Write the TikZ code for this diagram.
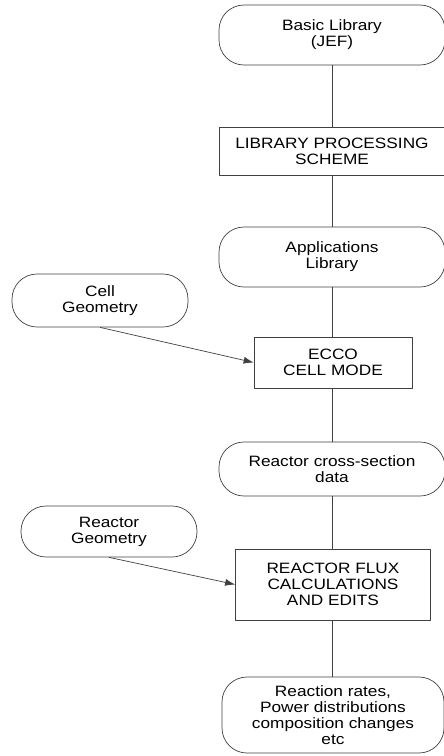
\documentclass[tikz,border=0pt]{standalone}
\usepackage{fontspec}
\setmainfont[FakeStretch=1.15]{Liberation Sans}
\usetikzlibrary{arrows.meta}
\begin{document}
\begin{tikzpicture}[x=1pt, y=-1pt, >={Latex[length=10pt,width=7pt]}, line join=round, font=\fontsize{15}{16}\selectfont]
	\tikzset{box style/.style={draw=black!75, line width=0.7pt, align=center, inner sep=2pt},
		round box/.style={box style, rounded corners=25pt},
		link/.style={draw=black!75, line width=0.7pt}}
	\useasboundingbox (0,0) rectangle (444,756);
	% main chain
	\node[round box, minimum width=226pt, minimum height=60pt] (basic) at (332,35) {Basic Library\\(JEF)};
	\node[box style, minimum width=226pt, minimum height=48pt] (scheme) at (332,151) {LIBRARY PROCESSING\\SCHEME};
	\node[round box, minimum width=226pt, minimum height=60pt] (apps) at (332,257) {Applications\\Library};
	\node[box style, minimum width=158pt, minimum height=51pt] (ecco) at (333,362.5) {ECCO\\CELL MODE};
	\node[round box, minimum width=226pt, minimum height=54pt] (xsec) at (332,469) {Reactor cross-section\\data};
	\node[box style, minimum width=195pt, minimum height=71pt] (flux) at (333,584.5) {REACTOR FLUX\\CALCULATIONS\\AND EDITS};
	\node[round box, minimum width=222pt, minimum height=76pt] (rates) at (333,715) {Reaction rates,\\Power distributions\\composition changes\\etc};
	% side inputs
	\node[round box, minimum width=176pt, minimum height=53pt] (cellgeo) at (100,300.5) {Cell\\Geometry};
	\node[round box, minimum width=176pt, minimum height=51pt] (reacgeo) at (109,531.5) {Reactor\\Geometry};
	\foreach \a/\b in {basic/scheme, scheme/apps, apps/ecco, ecco/xsec, xsec/flux, flux/rates}
	\draw[link] (\a.south -| basic) -- (\b.north -| basic);
	\draw[link, ->] (cellgeo.south) -- (ecco.west);
	\draw[link, ->] (reacgeo.south) -- (flux.west);
\end{tikzpicture}
\end{document}
